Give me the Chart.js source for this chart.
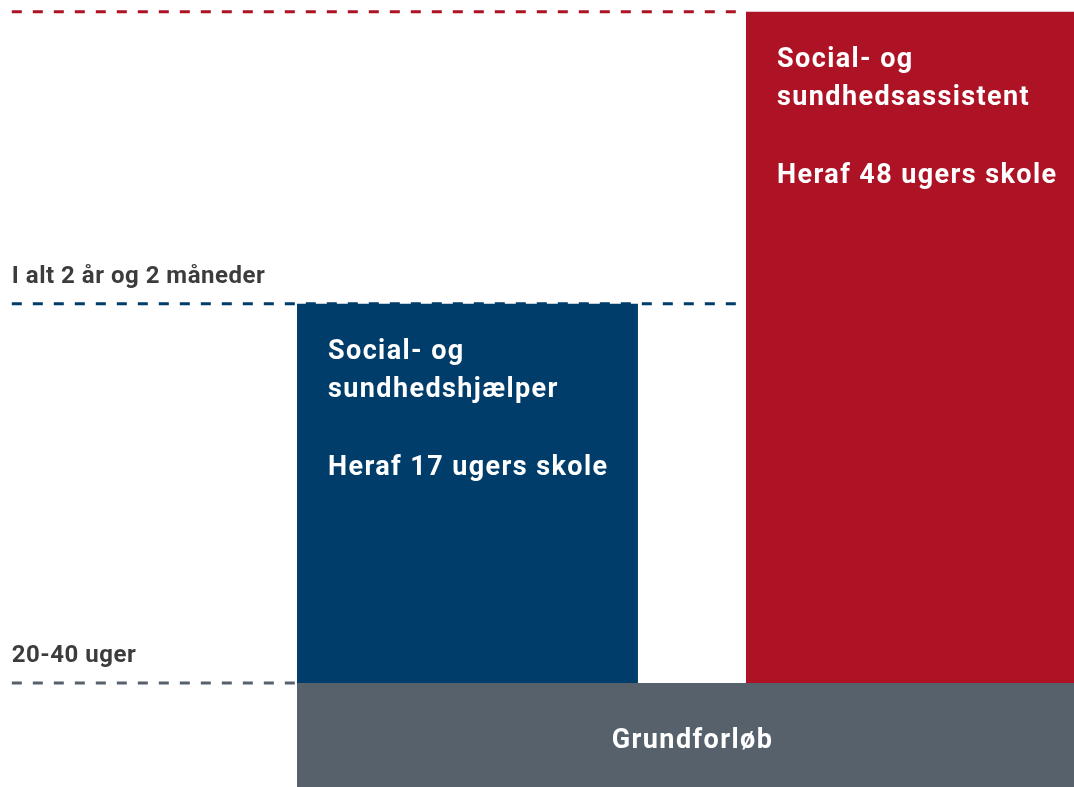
<!DOCTYPE html>
<html lang="da">
<head>
    <meta charset="UTF-8" />
    <title>Social- og sundhedsuddannelser</title>
    <script src="https://cdn.jsdelivr.net/npm/chart.js"></script>
    <style>
        html, body { margin: 0; padding: 0; background: #fff; }
        #wrap { width: 1074px; height: 787px; }
    </style>
</head>
<body>
    <div id="wrap"><canvas id="eduChart"></canvas></div>

    <script>
        // uddannelser (felter), på en skala 0-100 i begge retninger
        const programmes = ['Grundforløb', 'Social- og sundhedshjælper', 'Social- og sundhedsassistent'];
        const barStart = [27.65, 27.65, 69.46];
        const barEnd = [100, 59.4, 100];
        const barBase = [0, 13.2, 13.2];
        const barTop = [13.2, 61.4, 98.5];
        const barColors = ['#56616c', '#003d6a', '#ad1324'];
        const barText = [
            ['Grundforløb'],
            ['Social- og', 'sundhedshjælper', '', 'Heraf 17 ugers skole'],
            ['Social- og', 'sundhedsassistent', '', 'Heraf 48 ugers skole']
        ];

        // stiplede niveaulinjer
        const levelValues = [13.2, 61.4, 98.5];
        const levelStart = [1.1, 1.1, 1.1];
        const levelEnd = [27.65, 69.46, 69.46];
        const levelColors = ['#56616c', '#003d6a', '#ad1324'];
        const levelLabels = ['20-40 uger', 'I alt 2 år og 2 måneder', ''];

        const FONT = 'Roboto, "Open Sans", sans-serif';

        const datasets = [];
        programmes.forEach((name, i) => {
            datasets.push({
                label: name,
                data: [
                    { x: barStart[i], y: barBase[i] },
                    { x: barStart[i], y: barTop[i] },
                    { x: barEnd[i], y: barTop[i] },
                    { x: barEnd[i], y: barBase[i] }
                ],
                borderWidth: 0,
                borderColor: barColors[i],
                backgroundColor: barColors[i],
                pointRadius: 0,
                tension: 0,
                fill: { value: barBase[i] }
            });
        });
        levelValues.forEach((v, i) => {
            datasets.push({
                label: 'niveau ' + i,
                data: [{ x: levelStart[i], y: v }, { x: levelEnd[i], y: v }],
                borderColor: levelColors[i],
                borderWidth: 3,
                borderDash: [10, 11],
                pointRadius: 0,
                fill: false
            });
        });

        const textPlugin = {
            id: 'textPlugin',
            afterDatasetsDraw(chart) {
                const ctx = chart.ctx;
                const xs = chart.scales.x, ys = chart.scales.y;
                ctx.save();
                ctx.textBaseline = 'alphabetic';

                // tekst i felterne
                ctx.fillStyle = '#ffffff';
                ctx.font = 'bold 27px ' + FONT;
                ctx.letterSpacing = '1.4px';
                const offsets = [55, 93, 132, 171];
                barText.forEach((lines, i) => {
                    if (i === 0) {
                        ctx.textAlign = 'center';
                        const cx = (xs.getPixelForValue(barStart[i]) + xs.getPixelForValue(barEnd[i])) / 2 + 7;
                        ctx.fillText(lines[0], cx, ys.getPixelForValue(barTop[i]) + 65);
                        return;
                    }
                    ctx.textAlign = 'left';
                    const left = xs.getPixelForValue(barStart[i]) + 31;
                    const top = ys.getPixelForValue(barTop[i]);
                    lines.forEach((t, j) => {
                        if (t) ctx.fillText(t, left, top + offsets[j]);
                    });
                });

                // etiketter over de stiplede linjer
                ctx.fillStyle = '#3c3c3c';
                ctx.font = 'bold 24px ' + FONT;
                ctx.letterSpacing = '0.5px';
                ctx.textAlign = 'left';
                levelLabels.forEach((t, i) => {
                    if (!t) return;
                    ctx.fillText(t, xs.getPixelForValue(levelStart[i]), ys.getPixelForValue(levelValues[i]) - 21);
                });
                ctx.restore();
            }
        };

        new Chart(document.getElementById('eduChart'), {
            type: 'line',
            data: { datasets: datasets },
            options: {
                responsive: true,
                maintainAspectRatio: false,
                animation: false,
                layout: { padding: 0 },
                plugins: {
                    legend: { display: false },
                    tooltip: { enabled: false }
                },
                scales: {
                    x: { type: 'linear', min: 0, max: 100, display: false },
                    y: { type: 'linear', min: 0, max: 100, display: false }
                }
            },
            plugins: [textPlugin]
        });
    </script>
</body>
</html>
